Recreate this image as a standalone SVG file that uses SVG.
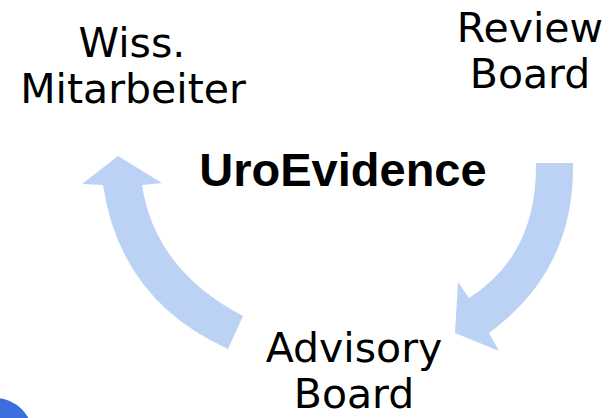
<svg xmlns="http://www.w3.org/2000/svg" width="615" height="418" viewBox="0 0 615 418">
  <style>
    .label { font-family: "DejaVu Sans", "Liberation Sans", sans-serif; font-size: 41px; fill: #000; text-anchor: middle; }
    .title { font-family: "Liberation Sans", Arial, sans-serif; font-size: 47px; font-weight: bold; fill: #000; text-anchor: middle; }
    .cycle { fill: #BCD2F5; stroke: none; }
  </style>
  <rect width="615" height="418" fill="#fff"/>

  <!-- curved cycle arrows -->
  <g id="connectors">
    <!-- Advisory Board -> Wiss. Mitarbeiter -->
    <path class="cycle" d="M228,349 Q120,300 103,185 L82,184 L118,156 L162,183 L142,185 Q155,270 243,316 Z"/>
    <!-- Review Board -> Advisory Board -->
    <path class="cycle" d="M573,163 Q575,270 489,333 L499,351 L455,333 L458,282 L469,298 Q537,255 536,163 Z"/>
  </g>

  <g id="title">
    <text class="title" x="343" y="186">UroEvidence</text>
  </g>

  <g id="wiss-mitarbeiter">
    <text class="label" x="132" y="57">Wiss.</text>
    <text class="label" x="133" y="103">Mitarbeiter</text>
  </g>

  <g id="review-board">
    <text class="label" x="530" y="42">Review</text>
    <text class="label" x="530" y="88">Board</text>
  </g>

  <g id="advisory-board">
    <text class="label" x="354" y="362">Advisory</text>
    <text class="label" x="354" y="408">Board</text>
  </g>

  <circle cx="-5" cy="436" r="38" fill="#3B6FDE"/>
</svg>
